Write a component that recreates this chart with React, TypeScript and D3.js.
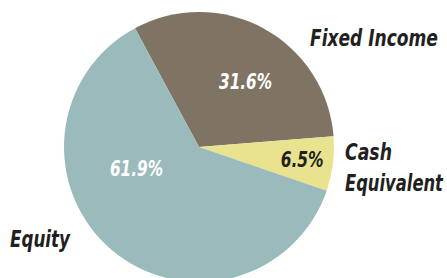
import * as d3 from "d3";
import { useEffect, useRef } from "react";

const categories = ["Fixed Income", "Cash Equivalent", "Equity"];
const values = [31.6, 6.5, 61.9];
const colors = ["#7f7464", "#e9e390", "#9bbabb"];

const W = 447;
const H = 278;
const FONT = "'DejaVu Sans Condensed', 'DejaVu Sans', sans-serif";

// slice starts up-left of 12 o'clock, clockwise
const START = (-28.3 * Math.PI) / 180;

export default function App() {
  const ref = useRef<SVGSVGElement>(null);

  useEffect(() => {
    const el = ref.current;
    if (!el) return;
    const svg = d3.select(el);
    svg.selectAll("*").remove();

    const cx = 199;
    const cy = 147;
    const r = 135;

    const pie = d3
      .pie<number>()
      .sort(null)
      .value((d) => d)
      .startAngle(START)
      .endAngle(START + 2 * Math.PI);
    const arcs = pie(values);
    const arc = d3.arc<d3.PieArcDatum<number>>().innerRadius(0).outerRadius(r);

    const g = svg.append("g").attr("transform", `translate(${cx},${cy})`);
    g.selectAll("path")
      .data(arcs)
      .join("path")
      .attr("d", arc)
      .attr("fill", (_, i) => colors[i]);

    // squeeze a text horizontally to a target width (condensed look)
    const squeeze = (
      parent: d3.Selection<SVGGElement, unknown, null, undefined>,
      t: string,
      x: number,
      y: number,
      w: number,
      size: number,
      fill: string
    ) => {
      const node = parent
        .append("text")
        .attr("font-family", FONT)
        .attr("font-weight", "bold")
        .attr("font-style", "italic")
        .attr("font-size", size)
        .attr("fill", fill)
        .text(t);
      const nat = (node.node() as SVGTextElement).getComputedTextLength() || w;
      node.attr("transform", `translate(${x},${y}) scale(${w / nat},1)`);
    };

    // percent labels: [angle offset deg, radius, colour, width]
    const pctPos: [number, number, string, number][] = [
      [7, 80, "#ffffff", 53],
      [0, 104, "#231f20", 43],
      [31, 66, "#ffffff", 53],
    ];
    arcs.forEach((d, i) => {
      const a = (d.startAngle + d.endAngle) / 2 + (pctPos[i][0] * Math.PI) / 180;
      const px = Math.sin(a) * pctPos[i][1];
      const py = -Math.cos(a) * pctPos[i][1];
      squeeze(g, `${d.data}%`, px - pctPos[i][3] / 2, py + 7.5, pctPos[i][3], 21, pctPos[i][2]);
    });

    const lab = svg.append("g");
    const [cashA, cashB] = categories[1].split(" ");
    squeeze(lab, categories[0], 310, 46, 128, 23, "#231f20");
    squeeze(lab, cashA, 345, 160, 47, 23, "#231f20");
    squeeze(lab, cashB, 345, 191, 98, 23, "#231f20");
    squeeze(lab, categories[2], 10, 247, 60, 23, "#231f20");
  }, []);

  return (
    <div style={{ position: "fixed", left: 0, top: 0, width: W, height: H, background: "#fff" }}>
      <svg ref={ref} width={W} height={H} />
    </div>
  );
}
